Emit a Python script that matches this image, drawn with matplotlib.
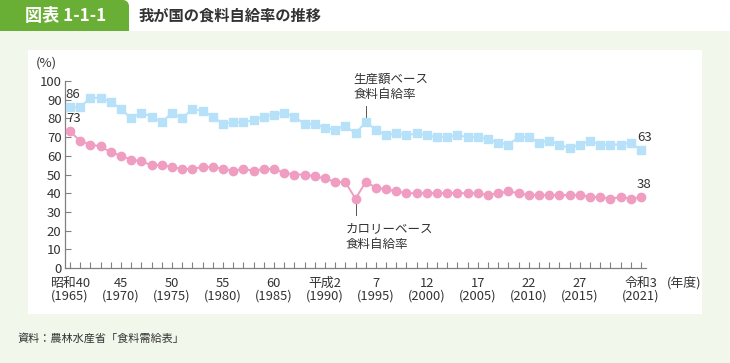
import matplotlib
matplotlib.use("Agg")
import matplotlib.pyplot as plt
import matplotlib.patches as patches

plt.rcParams['font.family'] = ['Noto Sans CJK JP', 'DejaVu Sans']

years = list(range(1965, 2022))
production = [86, 86, 91, 91, 89, 85, 80, 83, 81, 78,
              83, 80, 85, 84, 81, 77, 78, 78, 79, 81,
              82, 83, 81, 77, 77, 75, 74, 76, 72, 78,
              74, 71, 72, 71, 72, 71, 70, 70, 71, 70,
              70, 69, 67, 66, 70, 70, 67, 68, 66, 64,
              66, 68, 66, 66, 66, 67, 63]
calorie = [73, 68, 66, 65, 62, 60, 58, 57, 55, 55,
           54, 53, 53, 54, 54, 53, 52, 53, 52, 53,
           53, 51, 50, 50, 49, 48, 46, 46, 37, 46,
           43, 42, 41, 40, 40, 40, 40, 40, 40, 40,
           40, 39, 40, 41, 40, 39, 39, 39, 39, 39,
           39, 38, 38, 37, 38, 37, 38]
tick_years = [1965, 1970, 1975, 1980, 1985, 1990, 1995, 2000, 2005, 2010, 2015, 2021]
tick_labels = ["昭和40\n(1965)", "45\n(1970)", "50\n(1975)", "55\n(1980)", "60\n(1985)",
               "平成2\n(1990)", "7\n(1995)", "12\n(2000)", "17\n(2005)", "22\n(2010)",
               "27\n(2015)", "令和3\n(2021)"]
yticks = [0, 10, 20, 30, 40, 50, 60, 70, 80, 90, 100]

W, H = 730, 363
BLUE = "#b6e1f8"
PINK = "#f09dc2"
GREEN_BG = "#f1f7ea"
TAB = "#6aaf35"
TXT = "#333333"
AX = "#808080"

fig = plt.figure(figsize=(W / 100, H / 100), dpi=100)
fig.patch.set_facecolor("white")

def fx(x):
    return x / W

def fy(y):
    return 1 - y / H

# backgrounds
fig.patches.append(patches.Rectangle((0, 0), 1, fy(31), transform=fig.transFigure,
                                     facecolor=GREEN_BG, edgecolor="none", zorder=-10))
fig.patches.append(patches.Rectangle((fx(28), fy(314)), fx(702 - 28), (314 - 50) / H,
                                     transform=fig.transFigure, facecolor="white",
                                     edgecolor="none", zorder=-9))
# title tab
r = 6
fig.patches.append(patches.Rectangle((0, fy(31)), fx(129 - r), 31 / H, transform=fig.transFigure,
                                     facecolor=TAB, edgecolor="none", zorder=-8))
fig.patches.append(patches.Rectangle((0, fy(31)), fx(129), (31 - r) / H, transform=fig.transFigure,
                                     facecolor=TAB, edgecolor="none", zorder=-8))
fig.patches.append(patches.Ellipse((fx(129 - r), fy(r)), 2 * r / W, 2 * r / H,
                                   transform=fig.transFigure, facecolor=TAB,
                                   edgecolor="none", zorder=-8))
fig.text(fx(25), fy(16), "図表 1-1-1", color="white", fontsize=12.3, fontweight="bold",
         va="center", ha="left")
fig.text(fx(139), fy(16), "我が国の食料自給率の推移", color=TXT, fontsize=11, fontweight="bold",
         va="center", ha="left")
fig.text(fx(18), fy(338), "資料：農林水産省「食料需給表」", color=TXT, fontsize=8,
         va="center", ha="left")

# axes
x0, x1 = 65, 646
y0, y1 = 268, 81
ax = fig.add_axes([fx(x0), fy(y0), (x1 - x0) / W, (y0 - y1) / H])
ax.set_facecolor("none")
ax.set_xlim(1964.51, 2021.49)
ax.set_ylim(0, 100)
for s in ["top", "right"]:
    ax.spines[s].set_visible(False)
for s in ["left", "bottom"]:
    ax.spines[s].set_color(AX)
    ax.spines[s].set_linewidth(0.9)

ax.plot(years, production, color=BLUE, lw=1.4, marker="s", ms=5.4, mec=BLUE, mfc=BLUE,
        clip_on=False, zorder=3)
ax.plot(years, calorie, color=PINK, lw=1.4, marker="o", ms=6.0, mec=PINK, mfc=PINK,
        clip_on=False, zorder=3)

ax.set_yticks(yticks)
ax.set_yticklabels([str(v) for v in yticks])
ax.set_xticks(years, minor=True)
ax.set_xticks(tick_years)
ax.set_xticklabels(tick_labels, linespacing=0.95)
ax.tick_params(axis="y", direction="in", length=4, width=0.8, color=AX, labelsize=9.5,
               labelcolor=TXT, pad=2.5)
ax.tick_params(axis="x", which="both", direction="in", length=4, width=0.8, color=AX,
               labelsize=9.3, labelcolor=TXT, pad=6.5)
ax.tick_params(axis="x", which="minor", labelbottom=False)

# value labels
for xv, yv in [(years[0], production[0]), (years[0], calorie[0]),
               (years[-1], production[-1]), (years[-1], calorie[-1])]:
    ax.annotate(str(yv), (xv, yv), xytext=(-3, 4.5), textcoords="offset points",
                ha="left", va="bottom", fontsize=9.5, color=TXT, annotation_clip=False)

# series annotations
ax.plot([1994, 1994], [80.5, 86.5], color="#555555", lw=0.7, clip_on=False)
ax.text(1992.8, 97.0, "生産額ベース\n食料自給率", fontsize=9, color=TXT, ha="left",
        va="center", linespacing=1.25, clip_on=False)
ax.plot([1993, 1993], [28.5, 35.3], color="#555555", lw=0.7, clip_on=False)
ax.text(1992.0, 17.0, "カロリーベース\n食料自給率", fontsize=9, color=TXT, ha="left",
        va="center", linespacing=1.25, clip_on=False)

fig.text(fx(36), fy(63), "(%)", fontsize=9.5, color=TXT, ha="left", va="center")
fig.text(fx(667), fy(283), "(年度)", fontsize=9.3, color=TXT, ha="left", va="center")

fig.savefig("out.png", dpi=100, facecolor="white")
